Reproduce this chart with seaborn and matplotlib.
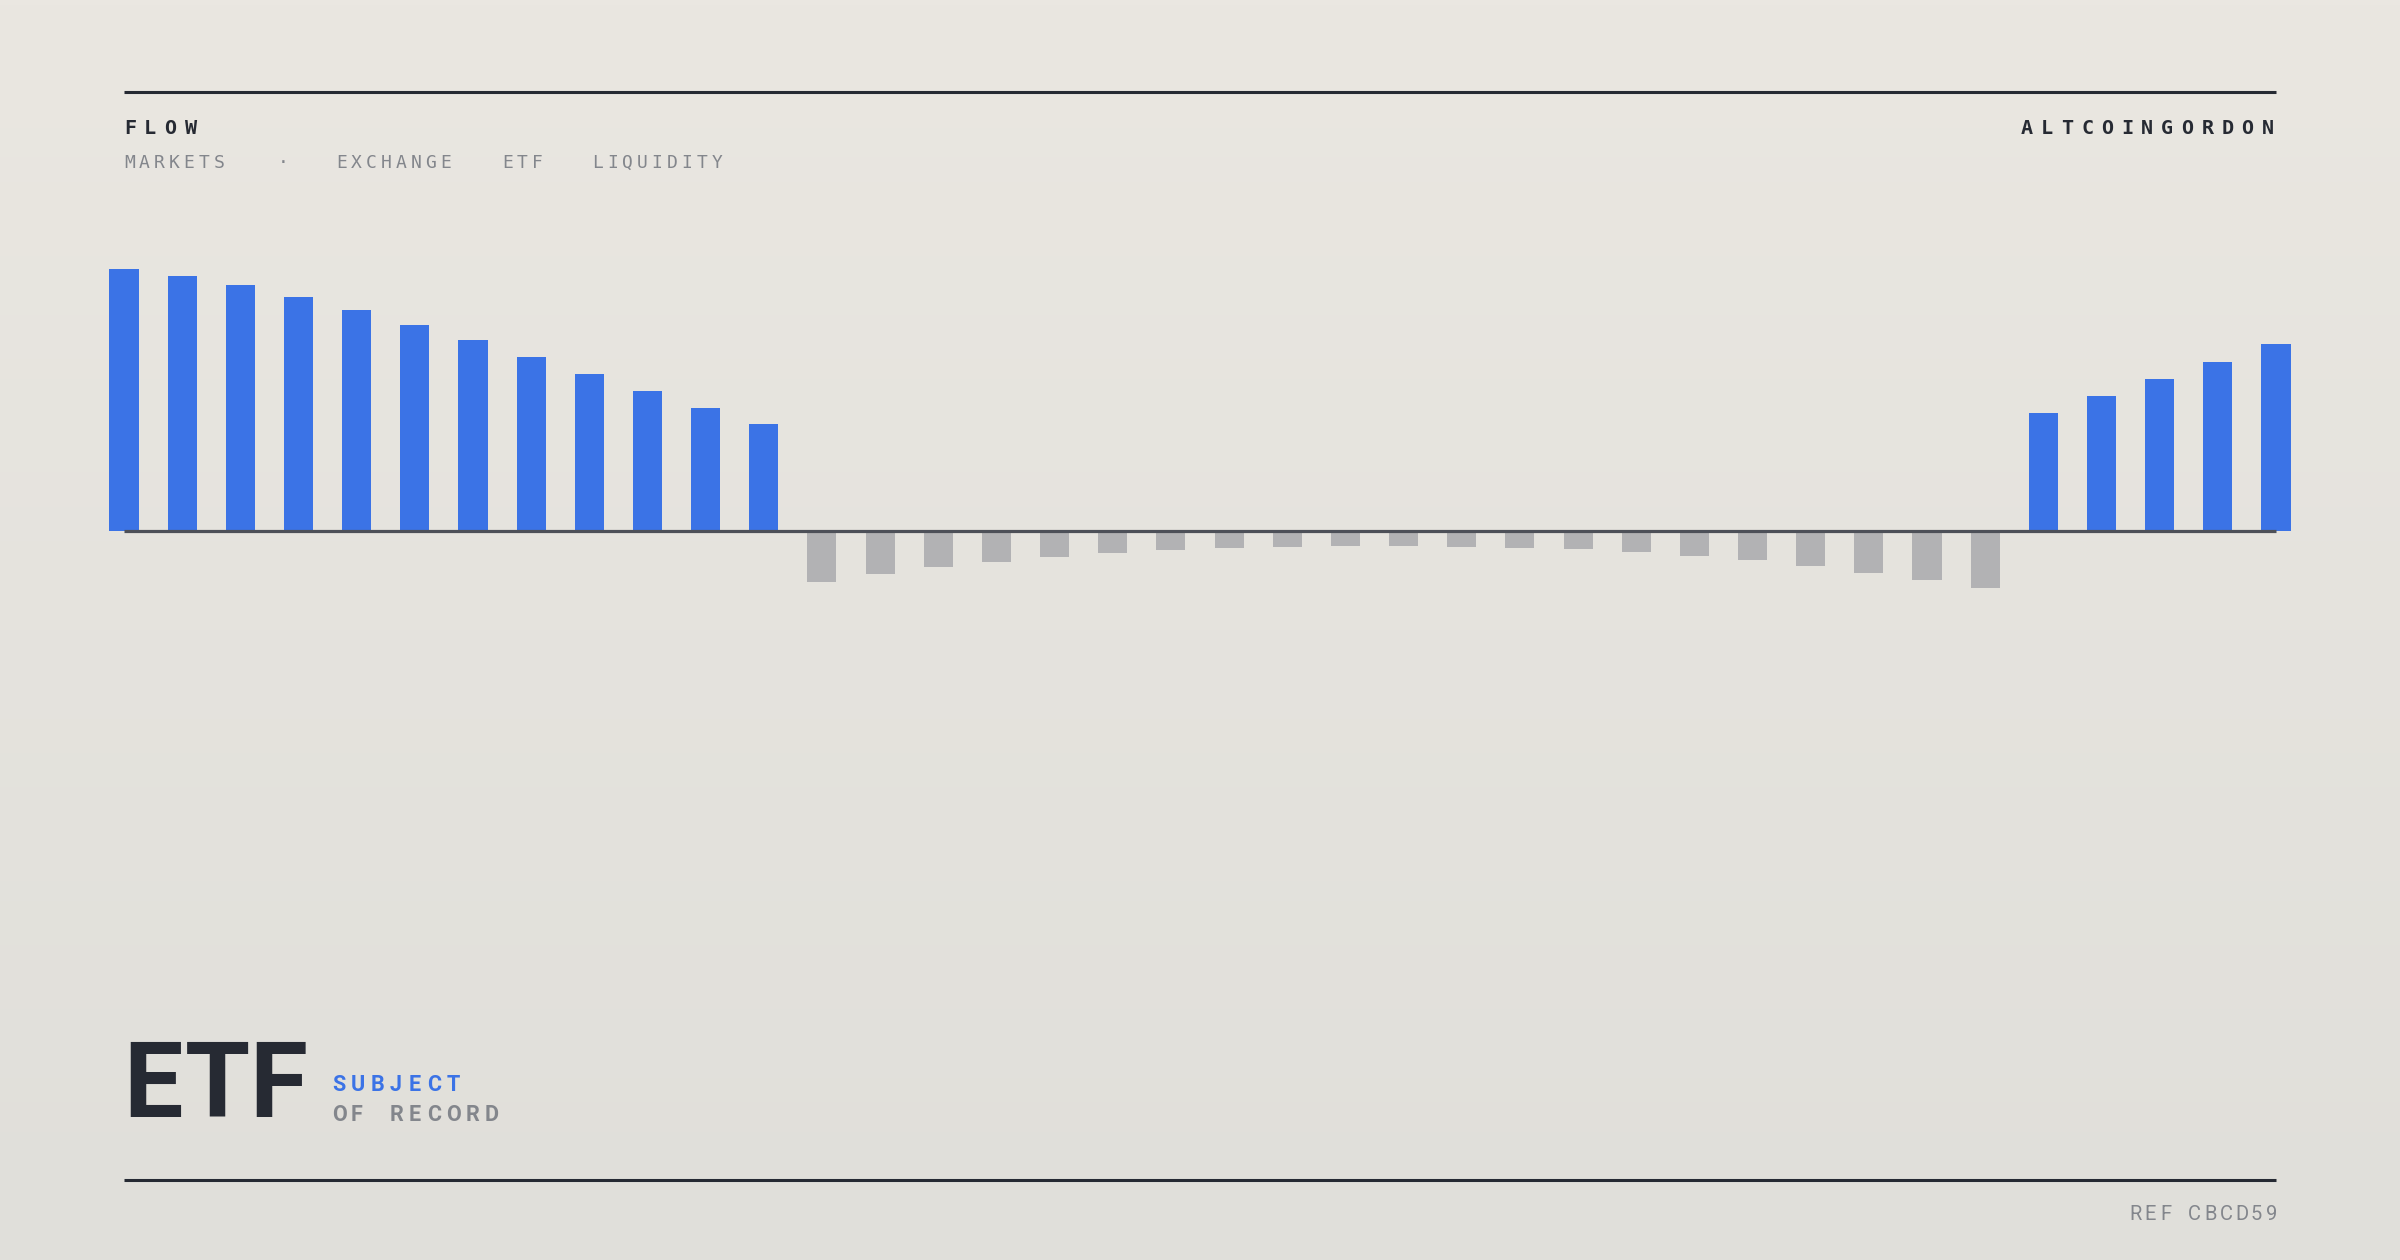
import numpy as np
import pandas as pd
import matplotlib
matplotlib.use("Agg")
import matplotlib.pyplot as plt
from matplotlib.colors import LinearSegmentedColormap
import seaborn as sns

# ---- data (net flow per session) ----
inflow_early = [262, 255, 246, 234, 221, 206, 191, 174, 157, 140, 123, 107]
outflow_mid = [-51, -43, -36, -31, -26, -22, -19, -17, -16, -15, -15,
               -16, -17, -18, -21, -25, -29, -35, -42, -49, -57]
inflow_late = [118, 135, 152, 169, 187]

values = inflow_early + outflow_mid + inflow_late
days = [f"D{i + 1:02d}" for i in range(len(values))]
direction = ["inflow" if v > 0 else "outflow" for v in values]

title = "FLOW"
tags = ["MARKETS", "·", "EXCHANGE", "ETF", "LIQUIDITY"]
brand = "ALTCOINGORDON"
big_word = "ETF"
sub1 = "SUBJECT"
sub2 = "OF RECORD"
ref = "REF CBCD59"

df = pd.DataFrame({"day": days, "flow": values, "dir": direction})

BLUE = "#3B73E6"
GRAY = "#B2B2B4"
DARK = "#262A33"
MUTED = "#83868C"

sns.set_theme(style="white")
plt.rcParams["font.family"] = ["DejaVu Sans"]

W, H = 2400, 1260
fig = plt.figure(figsize=(W / 100, H / 100), dpi=100)

# background with soft vertical gradient (pixel coordinates, y down)
bg = fig.add_axes([0, 0, 1, 1])
bg.set_xlim(0, W)
bg.set_ylim(H, 0)
bg.axis("off")
cmap = LinearSegmentedColormap.from_list("bg", ["#EAE7E1", "#E0DFDA"])
bg.imshow(np.linspace(0, 1, 256)[:, None], cmap=cmap, aspect="auto",
          extent=(0, W, H, 0), origin="upper", zorder=0)

# chart axes
ax = fig.add_axes([0, 0, 1, 1])
ax.patch.set_alpha(0)
sns.barplot(data=df, x="day", y="flow", hue="dir", hue_order=["inflow", "outflow"],
            palette={"inflow": BLUE, "outflow": GRAY}, width=0.5, dodge=False,
            saturation=1, linewidth=0, legend=False, ax=ax)
pitch = 58.162
ax.set_xlim(-124 / pitch, (W - 124) / pitch)
ax.set_ylim(-(H - 531), 531)
ax.axis("off")
ax.hlines(0, 0, len(values) - 1, color="#4D5058", lw=2.3, zorder=5)

# rules
bg.hlines(92, 124, 2276, color=DARK, lw=2.2, zorder=2)
bg.hlines(1180, 124, 2276, color=DARK, lw=2.2, zorder=2)


def spaced(x, y, s, step, space=None, **kw):
    cx = x
    for ch in s:
        if ch == " ":
            cx += step if space is None else space
            continue
        bg.text(cx, y, ch, ha="left", va="baseline", zorder=3, **kw)
        cx += step


mono = ["DejaVu Sans Mono"]
sans = ["Roboto", "DejaVu Sans"]
spaced(124, 134, title, 20.2, family=mono, fontsize=14.5, fontweight="bold", color=DARK)
spaced(2021, 134, brand, 20.05, family=mono, fontsize=14.5, fontweight="bold", color=DARK)

tag_x = [124, 278, 336, 502, 592]
for tx, t in zip(tag_x, tags):
    spaced(tx, 168, t, 14.9, family=mono, fontsize=13, color=MUTED)

# big word, letters set individually with wide tracking
for ch, gx in zip(big_word, [123, 185, 249]):
    bg.text(gx, 1117, ch, ha="left", va="baseline", family=sans,
            fontsize=76, fontweight="bold", color=DARK, zorder=3)

spaced(332, 1091, sub1, 19.1, family=sans, fontsize=15.5, fontweight="bold", color=BLUE)
spaced(332, 1121, sub2, 19.1, family=sans, fontsize=15.5, fontweight="bold", color=MUTED)
spaced(2129, 1220, ref, 15.6, space=12.5, family=sans, fontsize=14.5, color=MUTED)

fig.savefig("out.png", dpi=100)
